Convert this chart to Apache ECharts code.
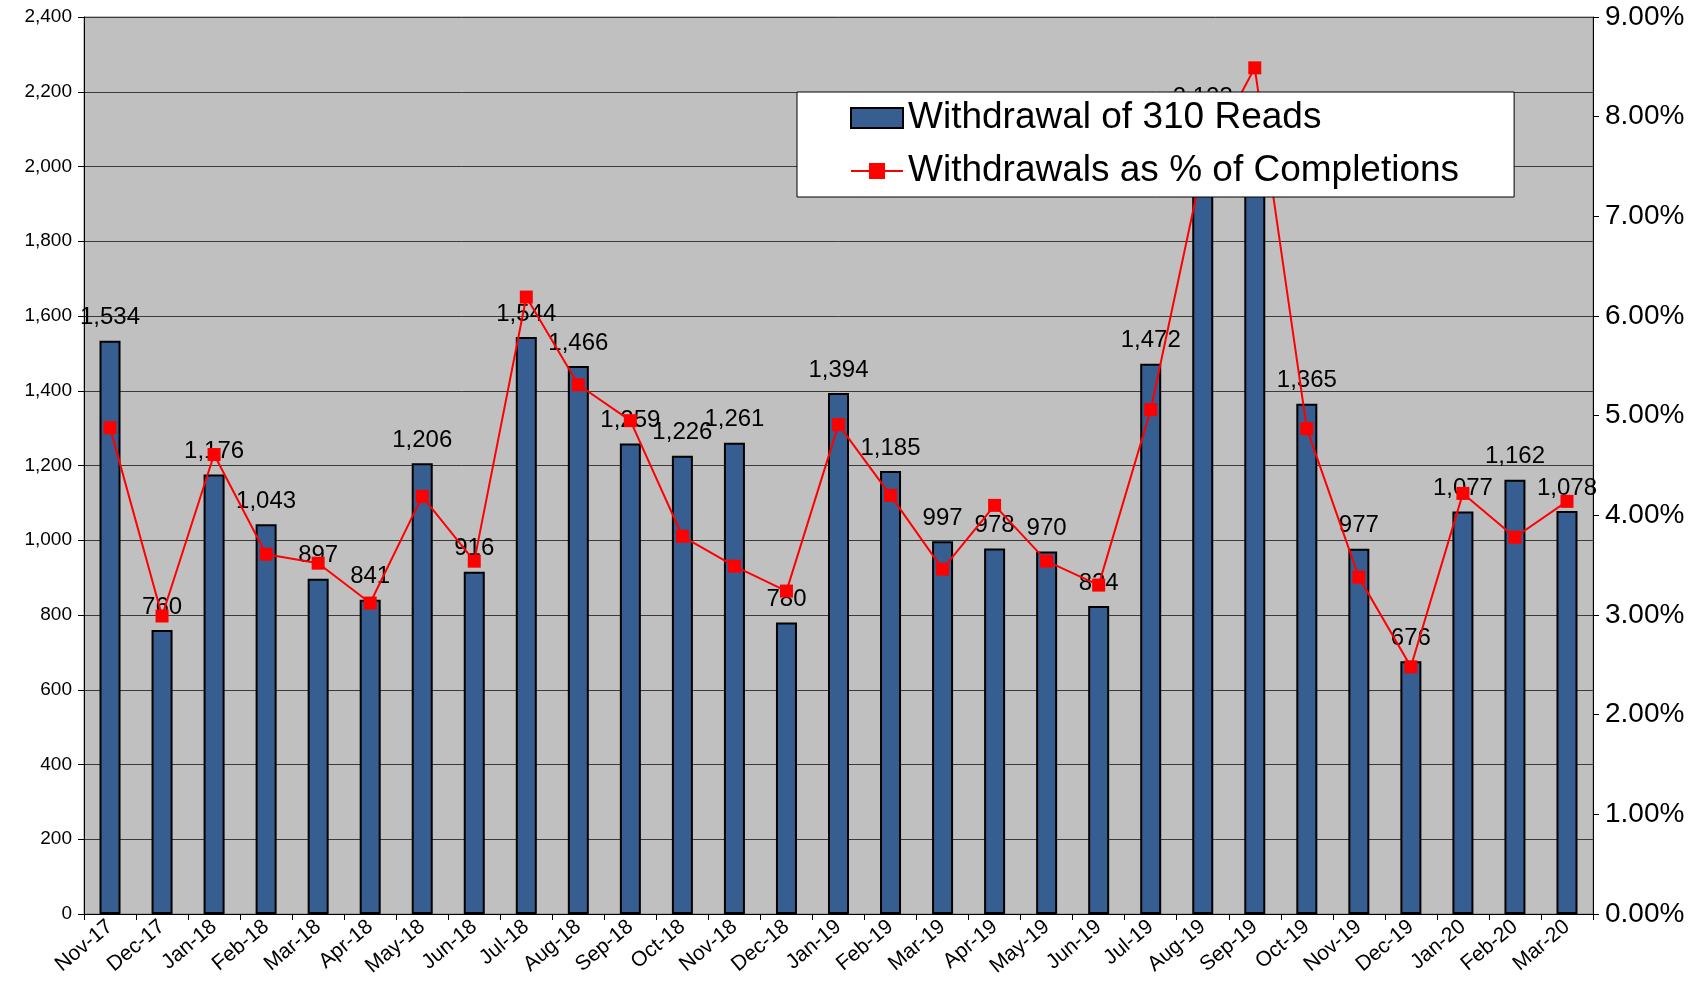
<!DOCTYPE html>
<html>
<head>
<meta charset="utf-8">
<script src="https://cdn.jsdelivr.net/npm/echarts@6/dist/echarts.min.js"></script>
<style>
html,body{margin:0;padding:0;background:#fff;}
#chart{width:1708px;height:987px;}
</style>
</head>
<body>
<div id="chart"></div>
<script>
const categories = ['Nov-17','Dec-17','Jan-18','Feb-18','Mar-18','Apr-18','May-18','Jun-18','Jul-18','Aug-18','Sep-18','Oct-18','Nov-18','Dec-18','Jan-19','Feb-19','Mar-19','Apr-19','May-19','Jun-19','Jul-19','Aug-19','Sep-19','Oct-19','Nov-19','Dec-19','Jan-20','Feb-20','Mar-20'];
const withdrawals = [1534,760,1176,1043,897,841,1206,916,1544,1466,1259,1226,1261,780,1394,1185,997,978,970,824,1472,2123,2110,1365,977,676,1077,1162,1078];
const pctOfCompletions = [4.88,2.99,4.61,3.61,3.52,3.12,4.19,3.54,6.19,5.31,4.95,3.79,3.49,3.24,4.91,4.20,3.46,4.10,3.54,3.30,5.06,7.51,8.49,4.87,3.38,2.48,4.22,3.78,4.14];
const seriesNames = ['Withdrawal of 310 Reads','Withdrawals as % of Completions'];

const chart = echarts.init(document.getElementById('chart'));
const font = 'Liberation Sans, Arial, sans-serif';
chart.setOption({
  backgroundColor: '#ffffff',
  animation: false,
  textStyle: { fontFamily: font, color: '#000' },
  grid: { left: 84, right: 115, top: 17, bottom: 73, show: true, backgroundColor: '#c0c0c0', borderColor: '#808080', borderWidth: 1 },
  legend: {
    orient: 'vertical',
    left: 797, top: 92,
    padding: [6, 55, 6, 53],
    itemGap: 13,
    itemWidth: 52, itemHeight: 20,
    backgroundColor: '#ffffff',
    borderColor: '#000000', borderWidth: 1,
    textStyle: { fontFamily: font, fontSize: 37, color: '#000', lineHeight: 40 },
    data: [{ name: seriesNames[0], icon: 'rect' }, { name: seriesNames[1] }]
  },
  xAxis: {
    type: 'category',
    data: categories,
    axisLine: { lineStyle: { color: '#000', width: 1 } },
    axisTick: { show: true, alignWithLabel: false, length: 6, lineStyle: { color: '#000' } },
    axisLabel: { rotate: 40, fontSize: 21, color: '#000', fontFamily: font, margin: 10, interval: 0 }
  },
  yAxis: [
    {
      type: 'value', min: 0, max: 2400, interval: 200,
      axisLine: { show: true, lineStyle: { color: '#000' } },
      axisTick: { show: true, length: 6, lineStyle: { color: '#000' } },
      axisLabel: { fontSize: 19, color: '#000', fontFamily: font, margin: 12,
        formatter: v => v.toLocaleString('en-US') },
      splitLine: { show: true, lineStyle: { color: '#3a3a3a', width: 1 } }
    },
    {
      type: 'value', min: 0, max: 9, interval: 1,
      axisLine: { show: true, lineStyle: { color: '#000' } },
      axisTick: { show: true, length: 6, lineStyle: { color: '#000' } },
      axisLabel: { fontSize: 28, color: '#000', fontFamily: font, margin: 12,
        formatter: v => v.toFixed(2) + '%' },
      splitLine: { show: false }
    }
  ],
  series: [
    {
      name: seriesNames[0],
      type: 'bar',
      data: withdrawals,
      yAxisIndex: 0,
      barWidth: 21,
      itemStyle: { color: '#365e90', borderColor: '#000', borderWidth: 2 },
      label: { show: true, position: 'top', distance: 11, fontSize: 24, color: '#000', fontFamily: font,
        formatter: p => p.value.toLocaleString('en-US') }
    },
    {
      name: seriesNames[1],
      type: 'line',
      data: pctOfCompletions,
      yAxisIndex: 1,
      symbol: 'rect', symbolSize: 13,
      lineStyle: { color: '#ff0000', width: 2 },
      itemStyle: { color: '#ff0000' },
      z: 3
    }
  ]
});
</script>
</body>
</html>
